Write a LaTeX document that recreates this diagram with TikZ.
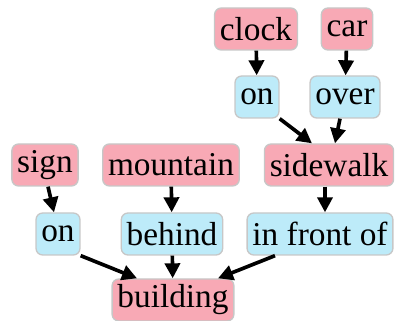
\documentclass[tikz,border=0pt]{standalone}
\usepackage{fontspec}
\setmainfont{Liberation Serif}
\usetikzlibrary{arrows.meta}
\definecolor{objpink}{HTML}{F8A9B5}
\definecolor{relblue}{HTML}{BDEBF9}
\tikzset{
  base/.style={rounded corners=2pt, draw=black!22, line width=0.4pt, inner xsep=1.6pt, inner ysep=0pt, minimum height=12.6pt, font=\fontsize{10}{12}\selectfont},
  obj/.style={base, fill=objpink},
  rel/.style={base, fill=relblue},
  edge/.style={-{Triangle[length=4.5pt,width=4.5pt]}, line width=1.1pt, black, shorten >=0pt}
}
\begin{document}
\begin{tikzpicture}[x=0.3pt,y=-0.3pt]
\useasboundingbox (0,0) rectangle (395,321);
\node[obj] (clock) at (256,29) {clock};
\node[obj] (car) at (347,29) {car};
\node[rel] (on1) at (257,97) {on};
\node[rel] (over) at (345,97) {over};
\node[obj] (sidewalk) at (329,165) {sidewalk};
\node[obj] (sign) at (45,165) {sign};
\node[obj] (mountain) at (171,165) {mountain};
\node[rel] (on2) at (58,234) {on};
\node[rel] (behind) at (172,234) {behind};
\node[rel] (front) at (320,234) {in front of};
\node[obj] (building) at (173,300) {building};
\draw[edge] (clock) -- (on1);
\draw[edge] (car) -- (over);
\draw[edge] (on1.south east) -- (sidewalk.north -| 312,0);
\draw[edge] (over.south) ++(-5,0) -- (sidewalk.north -| 335,0);
\draw[edge] (sidewalk.south -| 325,0) -- (front.north -| 325,0);
\draw[edge] (sign.south -| 48,0) -- (on2.north -| 54,0);
\draw[edge] (mountain) -- (behind);
\draw[edge] (on2.south east) -- (building.north -| 137,0);
\draw[edge] (behind) -- (building);
\draw[edge] (front.south -| 275,0) -- (building.north -| 218,0);
\end{tikzpicture}
\end{document}
